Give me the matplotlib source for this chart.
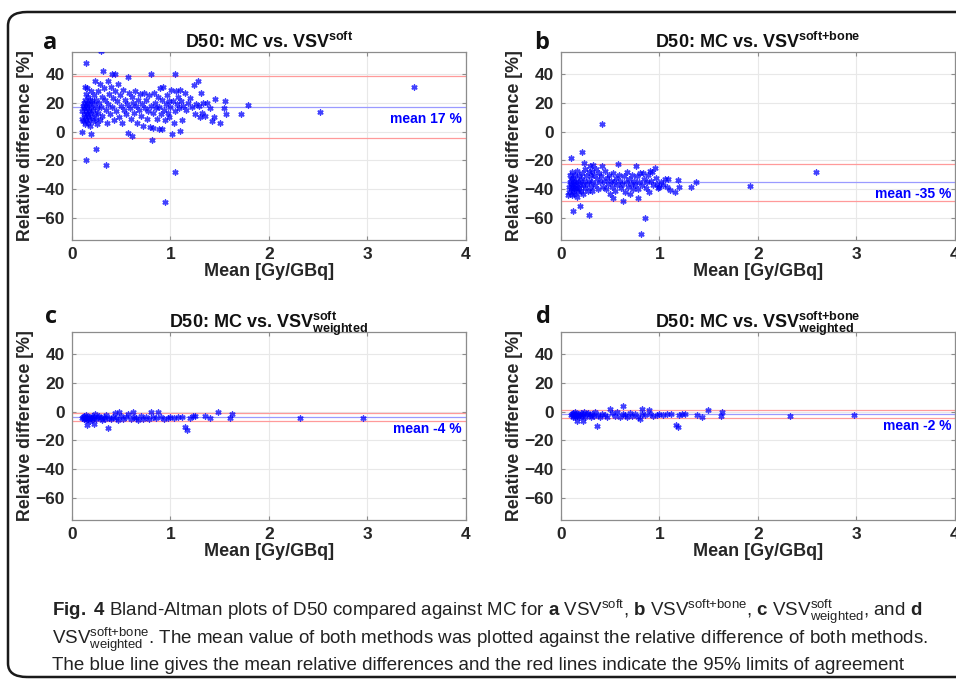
import matplotlib
matplotlib.use("Agg")
import matplotlib.pyplot as plt
from matplotlib import font_manager
from matplotlib.patches import FancyBboxPatch

# font setup
names = set(f.name for f in font_manager.fontManager.ttflist)
cap_font = "Liberation Sans Narrow" if "Liberation Sans Narrow" in names else "Liberation Sans"
plt.rcParams["font.family"] = ["Liberation Sans", "DejaVu Sans"]
plt.rcParams["mathtext.fontset"] = "custom"
plt.rcParams["mathtext.bf"] = "Liberation Sans:bold"
plt.rcParams["mathtext.rm"] = cap_font
plt.rcParams["mathtext.sf"] = cap_font + ":bold"
plt.rcParams["mathtext.it"] = cap_font + ":italic"

# Panel a: MC vs VSV soft
a_x = [0.10, 0.10, 0.11, 0.11, 0.12, 0.12, 0.12, 0.13, 0.13, 0.13, 0.13, 0.14, 0.14, 0.14, 0.14,
       0.15, 0.15, 0.15, 0.15, 0.16, 0.16, 0.16, 0.17, 0.17, 0.17, 0.18, 0.18, 0.18, 0.19, 0.19,
       0.20, 0.20, 0.21, 0.21, 0.22, 0.22, 0.23, 0.23, 0.24, 0.24, 0.25, 0.25, 0.26, 0.26, 0.27,
       0.28, 0.28, 0.29, 0.30, 0.30,
       0.29, 0.14, 0.31, 0.10, 0.19, 0.14, 0.24, 0.345,
       0.33, 0.34, 0.35, 0.36, 0.37, 0.37, 0.38, 0.39, 0.40, 0.41, 0.41, 0.42, 0.43, 0.44, 0.44,
       0.45, 0.46, 0.47, 0.48, 0.49, 0.50, 0.51, 0.52, 0.53, 0.54, 0.55, 0.56, 0.57, 0.57, 0.58,
       0.59, 0.60, 0.61, 0.61, 0.62, 0.63, 0.64, 0.65, 0.66, 0.67, 0.68, 0.69, 0.70, 0.71, 0.72,
       0.73, 0.74, 0.75, 0.76, 0.77, 0.78, 0.79, 0.80, 0.80, 0.81, 0.82, 0.82, 0.83, 0.84, 0.85,
       0.86, 0.87, 0.88, 0.88, 0.89, 0.90, 0.91, 0.91, 0.92, 0.93, 0.94, 0.94, 0.95, 0.96, 0.97,
       0.98, 0.99,
       1.00, 1.01, 1.02, 1.03, 1.04, 1.05, 1.05, 1.05, 1.06, 1.07, 1.08, 1.09, 1.10, 1.10, 1.11,
       1.12, 1.13, 1.15, 1.16, 1.18, 1.20, 1.22, 1.24, 1.25, 1.26, 1.28, 1.29, 1.30, 1.31, 1.32,
       1.33, 1.35, 1.37, 1.40, 1.42, 1.44, 1.45, 1.50, 1.54, 1.55, 1.56,
       1.72, 1.79, 2.52, 3.47]
a_y = [9, 14, 18, 7, 20, 12, 16, 10, 22, 31, 5, 14, 18, 26, 8,
       30, 12, 20, 16, 11, 24, 6, 14, 19, 9, 22, 13, 4, 17, 28,
       10, 21, 15, 7, 25, 19, 12, 35, 9, 22, 16, 5, 28, 13, 20,
       8, 33, 17, 24, 11,
       55.4, 47.5, 42, -0.5, -1.7, -19.8, -11.8, -23.2,
       30, 22, 15, 6, 35, 19, 26, 12, 31, 40, 17, 23, 8, 39.5, 28,
       14, 21, 33, 10, 25, 18, 6, 29, 15, 22, 12, 19, 37.5, -1, 27,
       16, 9, -3, 24, 20, 13, 28, 18, 6, 22, 15, 26, 11, 19, 4,
       27, 16, 22, 9, 14, 25, 3, 40, 18, -6, 13, 2.5, 27, 20, 16,
       9, 24, 1.5, 17, 30, 12, 1.5, 22, 31, 15, -48.5, 8, 19, 25, 13,
       21, 10,
       17, 29, -2, 21, 6, 39.8, -27.8, 14, 28, 19, 24, 16, 0.5, 29, 21,
       8, 18, 27, 15, 20, 23, 17, 32, 12, 19, 35, 18, 10, 27, 13,
       20, 11, 20, 16, 7, 10, 22.5, 6, 16, 21.4, 12.3,
       11.8, 18.4, 13.8, 30.6]
a_mean = 17
a_loa = [-4.4, 38.2]

# Panel b: MC vs VSV soft+bone
b_x = [0.08, 0.08, 0.09, 0.09, 0.10, 0.10, 0.10, 0.11, 0.11, 0.11, 0.12, 0.12, 0.12, 0.13, 0.13,
       0.13, 0.14, 0.14, 0.15, 0.15, 0.16, 0.16, 0.17, 0.17, 0.18, 0.18, 0.19, 0.20, 0.20, 0.21,
       0.22, 0.22, 0.23, 0.24, 0.24, 0.25, 0.26, 0.27, 0.28, 0.28, 0.29, 0.30, 0.30, 0.31, 0.32,
       0.32, 0.33, 0.34, 0.35, 0.36, 0.37, 0.38, 0.39, 0.40, 0.41, 0.43, 0.44, 0.45, 0.46, 0.47,
       0.48, 0.49, 0.50, 0.51, 0.52, 0.53, 0.54, 0.55, 0.56, 0.57, 0.59, 0.60, 0.61, 0.62, 0.64,
       0.65, 0.66, 0.67, 0.68, 0.69, 0.70, 0.71, 0.72, 0.73, 0.74, 0.75, 0.77, 0.78, 0.79, 0.80,
       0.82, 0.84, 0.86, 0.87, 0.88, 0.89, 0.91, 0.92, 0.93, 0.96, 0.97, 0.98, 1.02, 1.04, 1.06,
       1.08,
       0.42, 0.21, 0.10, 0.23, 0.58, 0.42, 0.76, 0.12, 0.19, 0.28, 0.85, 0.81, 0.07, 0.16, 0.63,
       0.78, 0.53, 1.92, 2.59, 1.37, 1.32, 1.20, 1.19, 1.16, 1.11, 1.09, 1.00, 0.95, 0.90, 0.83]
b_y = [-38, -42, -35, -30, -40, -36, -33, -44, -38, -28, -41, -36, -32, -39, -43,
       -35, -37, -30, -40, -34, -38, -27, -42, -35, -31, -39, -36, -33, -41, -29,
       -37, -43, -34, -26, -39, -31, -36, -41, -28, -34, -24, -38, -31, -27, -35,
       -41, -23, -30, -37, -26, -33, -40, -29, -35, -31, -38, -34, -27, -40, -32,
       -36, -30, -43, -34, -38, -29, -35, -41, -32, -37, -30, -34, -39, -36, -31,
       -42, -35, -28, -38, -33, -43, -36, -30, -40, -34, -37, -31, -40, -35, -29,
       -37, -33, -39, -35, -30, -42, -34, -28, -37, -32, -36, -39, -35, -37, -33,
       -38,
       5, -14, -18, -21.5, -22.5, -23.5, -23.5, -55, -51.5, -57.5, -60, -71, -44, -45, -48,
       -46, -46, -37.5, -28, -35, -38.5, -38, -33.5, -41.5, -40.5, -32.5, -38.5, -25, -27.5, -28.5]
b_mean = -35
b_loa = [-47.8, -22.3]

# Panel c: MC vs VSV soft weighted
c_x = [0.10, 0.11, 0.12, 0.12, 0.13, 0.14, 0.14, 0.15, 0.16, 0.17, 0.18, 0.19, 0.20, 0.21, 0.22,
       0.23, 0.24, 0.26, 0.27, 0.29, 0.30, 0.32, 0.34, 0.35, 0.38, 0.40, 0.42, 0.45, 0.47, 0.50,
       0.52, 0.55, 0.57, 0.60, 0.63, 0.65, 0.67, 0.70, 0.72, 0.75, 0.78, 0.82, 0.85, 0.90, 0.93,
       0.97, 1.00, 1.04, 1.08, 1.12, 1.20, 1.23,
       0.37, 0.15, 0.22, 1.15, 1.17, 0.62, 0.80, 0.87, 1.48, 1.62, 1.60, 2.31, 2.95, 1.35, 1.40,
       1.25, 0.48, 0.44]
c_y = [-4.5, -3.5, -5.5, -3, -4.5, -6, -2.5, -4, -5, -3.5, -6.5, -4.5, -3, -5, -4,
       -2, -5.5, -4, -3, -4.5, -6, -3.5, -5, -2.5, -4.5, -5.5, -3.5, -4.5, -6, -3,
       -5, -4, -1.5, -5.5, -3.5, -4.5, -6, -3, -5, -4, -5.5, -3.5, -4.5, -4, -5,
       -4.5, -4, -4.5, -3.5, -4, -4.5, -3,
       -11.5, -9, -8.5, -11, -12.5, 0, 0, -0.5, -0.5, -1.5, -4.5, -4.5, -4.5, -3, -4.5,
       -3, -0.5, -1]
c_mean = -4
c_loa = [-6.9, -1.1]

# Panel d: MC vs VSV soft+bone weighted
d_x = [0.10, 0.11, 0.12, 0.12, 0.13, 0.14, 0.14, 0.15, 0.16, 0.17, 0.18, 0.19, 0.20, 0.21, 0.22,
       0.23, 0.24, 0.26, 0.27, 0.29, 0.30, 0.32, 0.34, 0.35, 0.38, 0.40, 0.42, 0.45, 0.47, 0.52,
       0.55, 0.57, 0.60, 0.63, 0.65, 0.67, 0.70, 0.72, 0.75, 0.78, 0.82, 0.85, 0.90, 0.93, 0.97,
       1.00, 1.04, 1.08, 1.12, 1.20, 1.23, 1.26,
       0.37, 0.63, 0.82, 0.89, 0.50, 1.49, 1.63, 1.62, 2.33, 2.97, 1.17, 1.19, 0.16, 0.22, 0.80,
       1.38, 1.43]
d_y = [-2.5, -1.5, -3.5, -1, -2.5, -4, -0.5, -2, -3, -1.5, -4, -2.5, -1, -3, -2,
       0, -3.5, -2, -1, -2.5, -3.5, -1.5, -3, -0.5, -2.5, -3.5, -1.5, -2.5, -4, -1,
       -3, 0, -3.5, -1.5, -2.5, -4, -1, -3, -2, -3.5, -1.5, -2.5, -2, -3, -2.5,
       -2, -2.5, -1.5, -2, -2.5, -1.5, -2,
       -10, 3.5, 1.5, 1, 2, 1, 0, -3, -3, -2.5, -9, -11, -6.5, -6.5, -5,
       -2.5, -3.5]
d_mean = -2
d_loa = [-4.8, 1.2]

panels = [
    ("a", r"D50: MC vs. VSV$^{\mathbf{soft}}$", a_x, a_y, a_mean, a_loa),
    ("b", r"D50: MC vs. VSV$^{\mathbf{soft{+}bone}}$", b_x, b_y, b_mean, b_loa),
    ("c", r"D50: MC vs. VSV$^{\mathbf{soft}}_{\mathbf{weighted}}$", c_x, c_y, c_mean, c_loa),
    ("d", r"D50: MC vs. VSV$^{\mathbf{soft{+}bone}}_{\mathbf{weighted}}$", d_x, d_y, d_mean, d_loa),
]
positions = [
    [0.0753, 0.6465, 0.4121, 0.2769],
    [0.5868, 0.6465, 0.4121, 0.2769],
    [0.0753, 0.2342, 0.4121, 0.2769],
    [0.5868, 0.2342, 0.4121, 0.2769],
]
letter_pos = [(0.045, 0.928), (0.559, 0.928), (0.047, 0.524), (0.561, 0.524)]

fig = plt.figure(figsize=(9.56, 6.79), dpi=100)

frame = FancyBboxPatch((8 / 956, 2 / 679), 1.2, 665 / 679,
                       boxstyle="round,pad=0,rounding_size=0.02",
                       transform=fig.transFigure, fill=False, ec="#1a1a1a", lw=1.8,
                       clip_on=False)
fig.patches.append(frame)

for (letter, title, xs, ys, m, loa), pos, lp in zip(panels, positions, letter_pos):
    ax = fig.add_axes(pos)
    ax.scatter(xs, ys, marker=(6, 2, 0), s=13, color="blue", linewidths=1.1, alpha=0.75, zorder=3)
    ax.axhline(m, color="#9a9aff", lw=0.9, zorder=2)
    for v in loa:
        ax.axhline(v, color="#ff9a9a", lw=0.9, zorder=2)
    ax.set_xlim(0, 4)
    ax.set_ylim(-75, 55)
    ax.set_xticks([0, 1, 2, 3, 4])
    ax.set_yticks([-60, -40, -20, 0, 20, 40])
    ax.grid(True, color="#e8e8e8", lw=0.8)
    ax.set_axisbelow(True)
    for s in ax.spines.values():
        s.set_color("#8c8c8c")
        s.set_linewidth(0.9)
    ax.tick_params(direction="in", length=3, color="#8c8c8c", top=True, right=True,
                   labelsize=12.5, labelcolor="#262626", pad=5)
    for t in ax.get_xticklabels() + ax.get_yticklabels():
        t.set_fontweight("bold")
    ax.set_xlabel("Mean [Gy/GBq]", fontsize=13, fontweight="bold", color="#262626", labelpad=1)
    ax.set_ylabel("Relative difference [%]", fontsize=12.8, fontweight="bold", color="#262626",
                  labelpad=1)
    ax.set_title(title, fontsize=13, fontweight="bold", color="#111111", pad=3)
    ax.text(0.99, (m - 3.5 + 75) / 130, "mean %d %%" % m, transform=ax.transAxes,
            ha="right", va="top", color="blue", fontsize=10, fontweight="bold")
    fig.text(lp[0], lp[1], letter, fontsize=17, fontweight="bold", family="Open Sans",
             color="#111111")

caption = [
    r"$\mathsf{Fig.\ 4}$ Bland-Altman plots of D50 compared against MC for $\mathsf{a}$ VSV$^{\mathrm{soft}}$, "
    r"$\mathsf{b}$ VSV$^{\mathrm{soft{+}bone}}$, $\mathsf{c}$ VSV$^{\mathrm{soft}}_{\mathrm{weighted}}$, and $\mathsf{d}$",
    r"VSV$^{\mathrm{soft{+}bone}}_{\mathrm{weighted}}$. The mean value of both methods was plotted against the relative difference of both methods.",
    "The blue line gives the mean relative differences and the red lines indicate the 95% limits of agreement",
]
cap_y = [612, 640, 666]
for line, yy in zip(caption, cap_y):
    fig.text(52 / 956, 1 - yy / 679, line, fontsize=13.5, family=cap_font, color="#222222",
             va="center", ha="left")

fig.savefig("out.png", dpi=100)
